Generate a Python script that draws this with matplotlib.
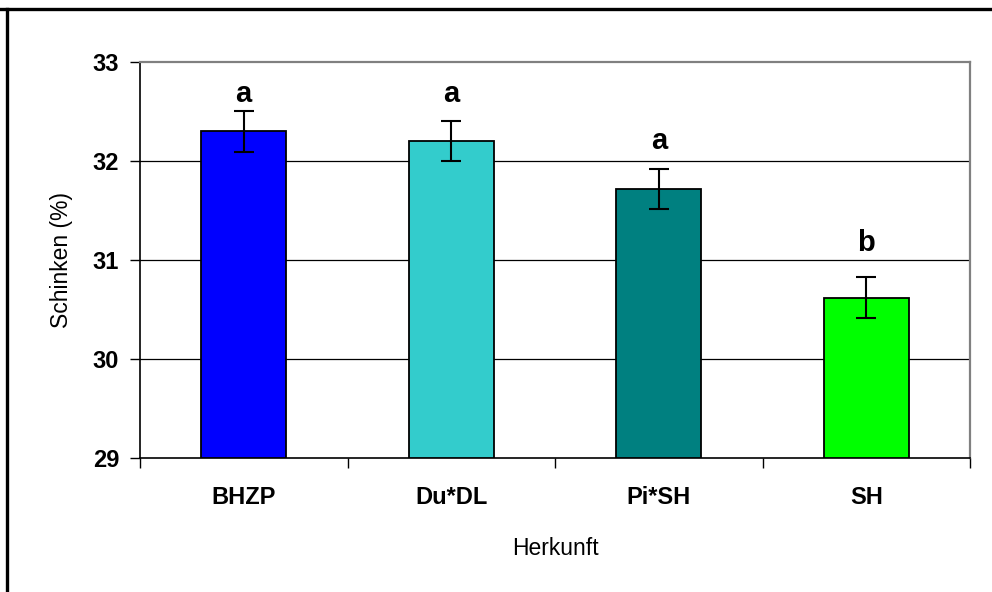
import numpy as np
import matplotlib.pyplot as plt
from matplotlib.lines import Line2D

plt.rcParams['font.family'] = ['Liberation Sans', 'DejaVu Sans']

# mean ham share per origin, with standard error and significance letters
herkunft = ['BHZP', 'Du*DL', 'Pi*SH', 'SH']
schinken = [32.3, 32.2, 31.72, 30.62]
fehler = [0.21, 0.2, 0.2, 0.21]
gruppen = ['a', 'a', 'a', 'b']
farben = ['#0000FF', '#33CCCC', '#008080', '#00FF00']
y_ticks = [29, 30, 31, 32, 33]
# baseline heights of the significance letters (axis units)
gruppen_y = [32.60, 32.60, 32.12, 31.09]

fig = plt.figure(figsize=(9.92, 5.92), dpi=100)
ax = fig.add_axes([140 / 992, 1 - 458 / 592, 830 / 992, 396 / 592])

x = np.arange(len(herkunft))
ax.bar(x, np.array(schinken) - 29, bottom=29, width=0.41, color=farben,
       edgecolor='black', linewidth=1.3, zorder=3)
ax.errorbar(x, schinken, yerr=fehler, fmt='none', ecolor='black',
            elinewidth=1.5, capsize=7, capthick=1.5, zorder=4)

for xi, gy, g in zip(x, gruppen_y, gruppen):
    ax.text(xi, gy, g, ha='center', va='baseline', fontsize=21,
            fontweight='bold')

ax.set_xlim(-0.5, len(herkunft) - 0.5)
ax.set_ylim(29, 33)
ax.set_yticks(y_ticks)
ax.set_yticklabels([str(t) for t in y_ticks], fontsize=17, fontweight='bold')
for t in y_ticks[1:-1]:
    ax.axhline(t, color='black', linewidth=0.9, zorder=1)

# category ticks sit between the bars, labels centred under the bars
ax.set_xticks(np.arange(len(herkunft) + 1) - 0.5)
ax.set_xticklabels([])
ax.set_xticks(x, minor=True)
ax.set_xticklabels(herkunft, minor=True, fontsize=17, fontweight='bold')
ax.tick_params(axis='x', which='major', length=7, width=1, direction='out')
ax.tick_params(axis='x', which='minor', length=0, pad=20)
ax.tick_params(axis='y', length=7, width=1, direction='out', pad=8)

ax.set_xlabel('Herkunft', fontsize=16.5, labelpad=20)
ax.set_ylabel('Schinken (%)', fontsize=16.5, labelpad=14)

for side in ['left', 'bottom']:
    ax.spines[side].set_color('black')
    ax.spines[side].set_linewidth(1.2)
for side in ['top', 'right']:
    ax.spines[side].set_color('#808080')
    ax.spines[side].set_linewidth(1.6)

# chart frame: only top and left edges fall inside the image
fig.add_artist(Line2D([0, 1], [1 - 9 / 592, 1 - 9 / 592], color='black',
                      linewidth=2.4, transform=fig.transFigure))
fig.add_artist(Line2D([7 / 992, 7 / 992], [0, 1 - 9 / 592], color='black',
                      linewidth=2.4, transform=fig.transFigure))

fig.savefig('out.png', dpi=100, facecolor='white')
